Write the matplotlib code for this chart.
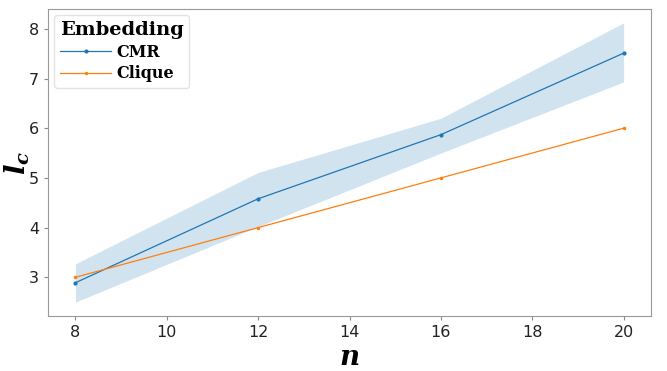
import matplotlib
matplotlib.use("Agg")
import matplotlib.pyplot as plt

# data
n_vals = [8, 12, 16, 20]
cmr_mean = [2.89, 4.58, 5.87, 7.51]
cmr_low = [2.50, 4.02, 5.50, 6.93]
cmr_high = [3.27, 5.11, 6.20, 8.12]
clique = [3.0, 4.0, 5.0, 6.0]

plt.rcParams['mathtext.fontset'] = 'custom'
plt.rcParams['mathtext.it'] = 'DejaVu Serif:italic:bold'
plt.rcParams['mathtext.rm'] = 'DejaVu Serif:bold'

fig, ax = plt.subplots(figsize=(6.67, 3.71), dpi=100)

ax.fill_between(n_vals, cmr_low, cmr_high, color='#1f77b4', alpha=0.2, linewidth=0)
ax.plot(n_vals, cmr_mean, color='#1f77b4', marker='o', markersize=2, linewidth=0.9, label='CMR')
ax.plot(n_vals, clique, color='#ff7f0e', marker='o', markersize=1.5, linewidth=0.9, label='Clique')

ax.set_xticks([8, 10, 12, 14, 16, 18, 20])
ax.set_yticks([3, 4, 5, 6, 7, 8])
ax.tick_params(labelsize=11.5, length=3, color='#888888', labelcolor='#222222')
for s in ax.spines.values():
    s.set_color('#999999')

ax.set_xlabel(r'$n$', fontsize=20, labelpad=2)
ax.set_ylabel(r'$l_c$', fontsize=20)
ax.yaxis.set_label_coords(-0.027, 0.5)

leg = ax.legend(title='Embedding', loc='upper left',
                prop={'family': 'DejaVu Serif', 'weight': 'bold', 'size': 11.5},
                handlelength=3.2, borderpad=0.35, labelspacing=0.3, handletextpad=0.3,
                borderaxespad=0.4, alignment='left')
leg.get_title().set_fontfamily('DejaVu Serif')
leg.get_title().set_fontweight('bold')
leg.get_title().set_fontsize(14)
leg.get_frame().set_edgecolor('#dddddd')

fig.subplots_adjust(left=0.072, right=0.976, top=0.976, bottom=0.148)
fig.savefig('out.png', dpi=100)
